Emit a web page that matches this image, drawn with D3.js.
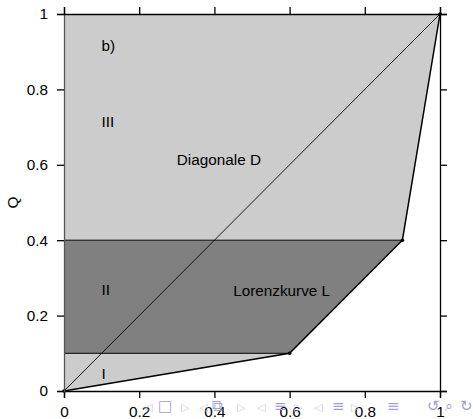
<!DOCTYPE html>
<html>
<head>
<meta charset="utf-8">
<script src="https://cdn.jsdelivr.net/npm/d3@7"></script>
<style>
  body { margin: 0; background: #fff; }
  text { font-family: 'Liberation Sans', Arial, sans-serif; }
</style>
</head>
<body>
<div class="svg"></div>
<script>
// Lorenz curve points (share of units, share of sum)
const lorenzX = [0, 0.6, 0.9, 1]
const lorenzY = [0, 0.1, 0.4, 1]
const tickValues = [0, 0.2, 0.4, 0.6, 0.8, 1]
const tickLabels = ['0', '0.2', '0.4', '0.6', '0.8', '1']
const regionLabels = ['I', 'II', 'III', 'b)']
const regionLabelY = [0.032, 0.255, 0.70, 0.903]

;(function init() {
  const width = 473
  const height = 419
  const margin = { left: 64, right: 33, top: 14, bottom: 28 }
  const fontSize = 15.3

  const x = d3.scaleLinear().domain([0, 1]).range([margin.left, width - margin.right])
  const y = d3.scaleLinear().domain([0, 1]).range([height - margin.bottom, margin.top])

  const svg = d3
    .select('.svg')
    .append('svg')
    .attr('width', width)
    .attr('height', height)

  const pts = lorenzX.map((d, i) => [d, lorenzY[i]])
  const line = d3.line().x((d) => x(d[0])).y((d) => y(d[1]))

  // regions left of the curve, split at the kink levels
  const regions = [
    { fill: '#cccccc', poly: [[0, 0], pts[1], [0, lorenzY[1]]] },
    { fill: '#808080', poly: [[0, lorenzY[1]], pts[1], pts[2], [0, lorenzY[2]]] },
    { fill: '#cccccc', poly: [[0, lorenzY[2]], pts[2], pts[3], [0, 1]] }
  ]
  svg.selectAll('path.region')
    .data(regions)
    .enter()
    .append('path')
    .attr('class', 'region')
    .attr('fill', (d) => d.fill)
    .attr('d', (d) => line(d.poly) + 'Z')

  // horizontal separators
  svg.selectAll('line.sep')
    .data([pts[1], pts[2]])
    .enter()
    .append('line')
    .attr('x1', x(0))
    .attr('x2', (d) => x(d[0]))
    .attr('y1', (d) => y(d[1]))
    .attr('y2', (d) => y(d[1]))
    .attr('stroke', '#000')
    .attr('stroke-width', 1)

  // diagonal
  svg.append('line')
    .attr('x1', x(0)).attr('y1', y(0))
    .attr('x2', x(1)).attr('y2', y(1))
    .attr('stroke', '#000')
    .attr('stroke-width', 0.9)

  // lorenz curve
  svg.append('path')
    .attr('d', line(pts))
    .attr('fill', 'none')
    .attr('stroke', '#000')
    .attr('stroke-width', 1.5)

  svg.selectAll('circle')
    .data(pts)
    .enter()
    .append('circle')
    .attr('cx', (d) => x(d[0]))
    .attr('cy', (d) => y(d[1]))
    .attr('r', 1.8)
    .attr('fill', '#000')

  // axes
  const tickFmt = (d, i) => tickLabels[i]
  svg.append('g')
    .attr('transform', `translate(0,${y(0)})`)
    .call(d3.axisBottom(x).tickValues(tickValues).tickFormat(tickFmt).tickSizeOuter(0).tickSize(7).tickPadding(8))
  const yAxis = svg.append('g')
    .attr('transform', `translate(${x(0)},0)`)
    .call(d3.axisLeft(y).tickValues(tickValues).tickFormat(tickFmt).tickSizeOuter(0).tickSize(7).tickPadding(9))
  svg.append('g')
    .attr('transform', `translate(0,${y(1)})`)
    .call(d3.axisTop(x).tickValues(tickValues).tickFormat('').tickSizeOuter(0).tickSize(7))
  svg.append('g')
    .attr('transform', `translate(${x(1)},0)`)
    .call(d3.axisRight(y).tickValues(tickValues).tickFormat('').tickSizeOuter(0).tickSize(7))

  svg.selectAll('.tick text')
    .style('font-size', fontSize + 'px')
    .style('font-family', "'Liberation Sans', Arial, sans-serif")
    .attr('fill', '#000')
  svg.selectAll('.domain, .tick line').attr('stroke', '#000').attr('stroke-width', 1.3)
  yAxis.select('.domain').attr('stroke', '#555')

  // labels
  svg.append('text')
    .attr('transform', `translate(18,${y(0.5)}) rotate(-90)`)
    .attr('text-anchor', 'middle')
    .style('font-size', fontSize + 'px')
    .text('Q')

  svg.selectAll('text.region')
    .data(regionLabels)
    .enter()
    .append('text')
    .attr('class', 'region')
    .attr('x', x(0.1))
    .attr('y', (d, i) => y(regionLabelY[i]))
    .style('font-size', fontSize + 'px')
    .text((d) => d)

  svg.append('text').attr('x', x(0.3)).attr('y', y(0.6)).style('font-size', fontSize + 'px').text('Diagonale D')
  svg.append('text').attr('x', x(0.45)).attr('y', y(0.253)).style('font-size', fontSize + 'px').text('Lorenzkurve L')

  // beamer navigation symbols
  const navSymbols = ['◁', '□', '▷', '◁', '⧉', '▷', '◁', '≡', '▷', '◁', '≡', '▷', '≡', '↺', '⌕', '↻']
  const navX = [144, 158, 181, 199, 212, 237, 257, 274, 294, 314, 332, 351, 387, 427, 445, 460]
  const navSize = [11, 15, 11, 11, 15, 11, 11, 15, 11, 11, 15, 11, 15, 15, 14, 15]
  svg.selectAll('text.nav')
    .data(navSymbols)
    .enter()
    .append('text')
    .attr('class', 'nav')
    .attr('x', (d, i) => navX[i])
    .attr('y', 411)
    .style('font-size', (d, i) => navSize[i] + 'px')
    .style('font-family', "'DejaVu Sans', sans-serif")
    .attr('fill', (d, i) => (navSize[i] === 11 ? '#c8c8e6' : '#a0a0d4'))
    .text((d) => d)
})()
</script>
</body>
</html>
